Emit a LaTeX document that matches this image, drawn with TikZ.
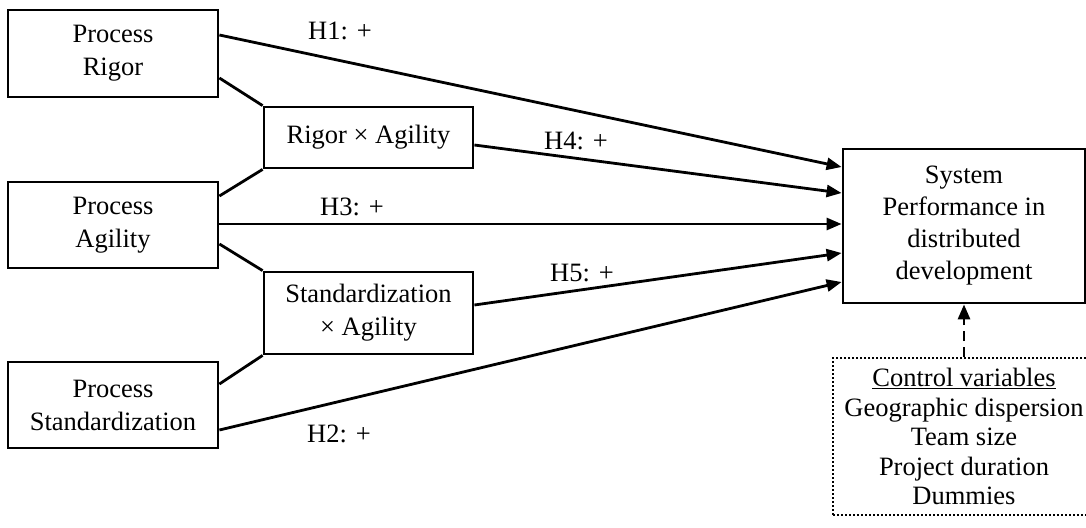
\documentclass[tikz,border=0pt]{standalone}
\usepackage{fontspec}
\setmainfont{Liberation Serif}
\usetikzlibrary{arrows.meta}
\begin{document}
\begin{tikzpicture}[x=1pt,y=-1pt,
  box/.style={draw, line width=2.8pt, align=center, inner sep=0pt, font=\fontsize{26.5}{33}\selectfont},
  conn/.style={line width=2.8pt},
  arr/.style={conn, -{Triangle[length=15pt,width=12pt]}},
  lbl/.style={anchor=base, inner sep=0pt, font=\fontsize{26.5}{33}\selectfont},
  ctrlbox/.style={draw, line width=2pt, dash pattern=on 2pt off 2pt, align=center, inner sep=0pt, font=\fontsize{26.5}{29.5}\selectfont}]
\useasboundingbox (0,0) rectangle (1086,527);
\node[box, minimum width=210pt, minimum height=87pt] (rigor) at (113,53.5) {Process\\Rigor};
\node[box, minimum width=210pt, minimum height=86pt] (agility) at (113,225) {Process\\Agility};
\node[box, minimum width=210pt, minimum height=86pt] (std) at (113,405) {Process\\Standardization};
\node[box, minimum width=209pt, minimum height=61pt] (rxa) at (368.5,137.5) {Rigor × Agility};
\node[box, minimum width=209pt, minimum height=82pt] (sxa) at (368.5,313) {Standardization\\× Agility};
\node[box, minimum width=242pt, minimum height=154pt, font=\fontsize{26.5}{32}\selectfont] (sys) at (964,226) {System\\Performance in\\distributed\\development};
\node[ctrlbox, minimum width=262pt, minimum height=157pt] (ctrl) at (964,436.5) {\underline{Control variables}\\Geographic dispersion\\Team size\\Project duration\\Dummies};
\draw[arr] ([yshift=18.5pt]rigor.east) -- ([yshift=59pt]sys.west);
\draw[conn] ([yshift=-24.5pt]rigor.east) -- (rxa.north west);
\draw[conn] ([yshift=29pt]agility.east) -- (rxa.south west);
\draw[arr] ([yshift=-7.5pt]rxa.east) -- ([yshift=33pt]sys.west);
\draw[arr] ([yshift=1pt]agility.east) -- ([yshift=2pt]sys.west);
\draw[conn] ([yshift=-19pt]agility.east) -- (sxa.north west);
\draw[conn] ([yshift=21pt]std.east) -- (sxa.south west);
\draw[arr] ([yshift=8pt]sxa.east) -- ([yshift=-27pt]sys.west);
\draw[arr] ([yshift=-25pt]std.east) -- ([yshift=-56pt]sys.west);
\draw[arr, dash pattern=on 10pt off 6pt] (ctrl.north) -- (sys.south);
\node[lbl] (h1) at (340,40) {H1: +};
\node[lbl] (h4) at (576,149) {H4: +};
\node[lbl] (h3) at (352,215) {H3: +};
\node[lbl] (h5) at (582,281) {H5: +};
\node[lbl] (h2) at (339,442) {H2: +};
\end{tikzpicture}
\end{document}
